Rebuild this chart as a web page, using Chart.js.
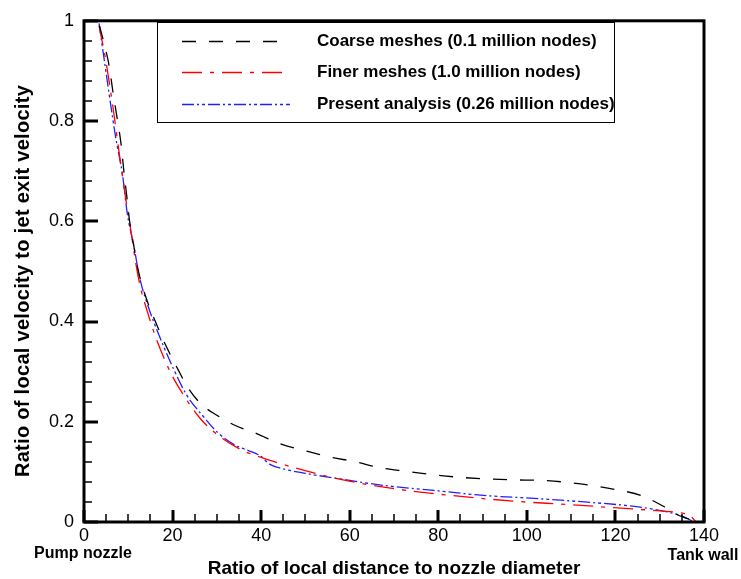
<!DOCTYPE html>
<html>
<head>
<meta charset="utf-8">
<script src="https://cdn.jsdelivr.net/npm/chart.js@4/dist/chart.umd.min.js"></script>
<style>
  html, body { margin: 0; padding: 0; background: #fff; }
  #wrap { width: 741px; height: 579px; position: relative; }
</style>
</head>
<body>
<div id="wrap"><canvas id="chartMesh"></canvas></div>
<script>
// velocity decay along the jet axis, three mesh resolutions
const coarseX = [3.5, 4.5, 5.7, 6.6, 7.5, 8.4, 9.0, 9.7, 10.3, 11.3, 12.3, 14.2, 16.4, 18.7, 21.3, 23.6, 26.6, 30.0, 33.8, 39.1, 44.3, 49.6, 55.3, 61.3, 67.0, 73.0, 79.0, 85.1, 91.1, 97.1, 103.2, 109.2, 114.5, 120.5, 125.8, 131.1, 134.1, 136.5, 137.9];
const coarseY = [0.99, 0.956, 0.909, 0.854, 0.805, 0.752, 0.70, 0.647, 0.60, 0.548, 0.50, 0.443, 0.394, 0.348, 0.303, 0.266, 0.234, 0.213, 0.194, 0.176, 0.156, 0.143, 0.130, 0.120, 0.108, 0.101, 0.094, 0.089, 0.086, 0.084, 0.083, 0.079, 0.073, 0.064, 0.053, 0.030, 0.014, 0.006, 0];

const finerX = [3.4, 4.9, 6.8, 8.3, 9.4, 10.6, 11.7, 12.7, 14.3, 16.1, 19.5, 22.5, 26.2, 30.0, 35.3, 41.3, 48.9, 56.4, 63.9, 73.8, 85.1, 97.9, 109.2, 120.5, 130.3, 134.8, 136.3, 137.4, 138.2];
const finerY = [0.99, 0.922, 0.811, 0.713, 0.647, 0.581, 0.516, 0.47, 0.42, 0.371, 0.299, 0.253, 0.207, 0.175, 0.145, 0.125, 0.105, 0.088, 0.075, 0.062, 0.051, 0.041, 0.035, 0.028, 0.022, 0.018, 0.015, 0.008, 0];

const presentX = [3.4, 5.3, 7.2, 8.7, 9.8, 11.3, 12.5, 14.5, 17.9, 20.5, 23.2, 27.0, 30.0, 33.8, 37.0, 39.8, 42.0, 45.0, 50.0, 56.4, 67.7, 79.0, 90.3, 101.7, 113.0, 124.3, 131.8, 135.6, 137.7];
const presentY = [0.995, 0.877, 0.765, 0.693, 0.614, 0.549, 0.49, 0.43, 0.352, 0.30, 0.253, 0.21, 0.18, 0.155, 0.143, 0.132, 0.115, 0.106, 0.097, 0.088, 0.073, 0.063, 0.053, 0.047, 0.040, 0.031, 0.020, 0.010, 0];

const seriesLabels = ['Coarse meshes (0.1 million nodes)', 'Finer meshes (1.0 million nodes)', 'Present analysis (0.26 million nodes)'];
const xTitle = 'Ratio of local distance to nozzle diameter';
const yTitle = 'Ratio of local velocity to jet exit velocity';
const xStartNote = 'Pump nozzle';
const xEndNote = 'Tank wall';

const FONT = 'Arial, "Liberation Sans", sans-serif';

function toPoints(xs, ys) {
    return xs.map((x, i) => ({ x: x, y: ys[i] }));
}

// frame, inward ticks, legend box and captions
const decorPlugin = {
    id: 'decor',
    afterDraw(chart) {
        const ctx = chart.ctx;
        const a = chart.chartArea;
        const xs = chart.scales.x, ys = chart.scales.y;
        ctx.save();
        ctx.setLineDash([]);
        ctx.lineCap = 'butt';
        ctx.strokeStyle = '#000000';

        // minor + major ticks, pointing into the plot
        for (let v = 0; v <= 140; v += 5) {
            const px = Math.round(xs.getPixelForValue(v));
            const major = v % 20 === 0;
            ctx.lineWidth = major ? 3 : 1.5;
            ctx.beginPath();
            ctx.moveTo(px, a.bottom);
            ctx.lineTo(px, a.bottom - (major ? 12 : 8));
            ctx.stroke();
        }
        for (let k = 0; k <= 25; k++) {
            const py = Math.round(ys.getPixelForValue(k * 0.04));
            const major = k % 5 === 0;
            ctx.lineWidth = major ? 3 : 1.5;
            ctx.beginPath();
            ctx.moveTo(a.left, py);
            ctx.lineTo(a.left + (major ? 14 : 8), py);
            ctx.stroke();
        }

        ctx.lineWidth = 3;
        ctx.strokeRect(a.left, a.top, a.right - a.left, a.bottom - a.top);

        // legend
        ctx.lineWidth = 1;
        ctx.strokeRect(157.5, 22.5, 457, 100);
        const rowY = [41, 72, 104];
        chart.data.datasets.forEach((ds, i) => {
            ctx.strokeStyle = ds.borderColor;
            ctx.lineWidth = 1.3;
            ctx.setLineDash(ds.borderDash);
            ctx.beginPath();
            ctx.moveTo(182, rowY[i] + 0.5);
            ctx.lineTo(290, rowY[i] + 0.5);
            ctx.stroke();
            ctx.setLineDash([]);
            ctx.fillStyle = '#000';
            ctx.font = 'bold 17px ' + FONT;
            ctx.textAlign = 'left';
            ctx.textBaseline = 'middle';
            ctx.fillText(ds.label, 317, rowY[i]);
        });

        // axis titles and end notes
        ctx.fillStyle = '#000';
        ctx.textBaseline = 'alphabetic';
        ctx.textAlign = 'center';
        ctx.font = 'bold 16px ' + FONT;
        ctx.fillText(xStartNote, 83, 558);
        ctx.fillText(xEndNote, 703, 560);
        ctx.font = 'bold 19px ' + FONT;
        ctx.fillText(xTitle, (a.left + a.right) / 2, 574);

        ctx.translate(29, 281);
        ctx.rotate(-Math.PI / 2);
        ctx.font = 'bold 20px ' + FONT;
        ctx.letterSpacing = '0.3px';
        ctx.fillText(yTitle, 0, 0);
        ctx.restore();
    }
};

document.addEventListener('DOMContentLoaded', function() {
    const ctx = document.getElementById('chartMesh').getContext('2d');

    new Chart(ctx, {
        type: 'scatter',
        data: {
            datasets: [{
                label: seriesLabels[0],
                data: toPoints(coarseX, coarseY),
                borderColor: '#000000',
                borderDash: [14, 13],
            }, {
                label: seriesLabels[1],
                data: toPoints(finerX, finerY),
                borderColor: '#ff0000',
                borderDash: [20, 8, 4, 8],
            }, {
                label: seriesLabels[2],
                data: toPoints(presentX, presentY),
                borderColor: '#2020ff',
                borderDash: [12, 3, 2, 3, 3, 3],
            }].map(d => Object.assign(d, {
                showLine: true,
                pointRadius: 0,
                borderWidth: 1.3,
                cubicInterpolationMode: 'monotone',
                fill: false
            }))
        },
        options: {
            responsive: true,
            maintainAspectRatio: false,
            animation: false,
            layout: { padding: { left: 0, right: 37, top: 14, bottom: 0 } },
            plugins: {
                legend: { display: false },
                tooltip: { enabled: false }
            },
            scales: {
                x: {
                    type: 'linear',
                    min: 0,
                    max: 140,
                    grid: { display: false, drawTicks: false },
                    border: { display: false },
                    ticks: {
                        stepSize: 20,
                        padding: 3,
                        maxRotation: 0,
                        color: '#000',
                        font: { size: 18, family: FONT }
                    },
                    afterFit: function(scale) { scale.height = 57; }
                },
                y: {
                    min: 0,
                    max: 1,
                    grid: { display: false, drawTicks: false },
                    border: { display: false },
                    ticks: {
                        stepSize: 0.2,
                        padding: 10,
                        color: '#000',
                        font: { size: 18, family: FONT },
                        callback: function(value) {
                            return Math.round(value * 10) / 10;
                        }
                    },
                    afterFit: function(scale) { scale.width = 84; }
                }
            }
        },
        plugins: [decorPlugin]
    });
});
</script>
</body>
</html>
